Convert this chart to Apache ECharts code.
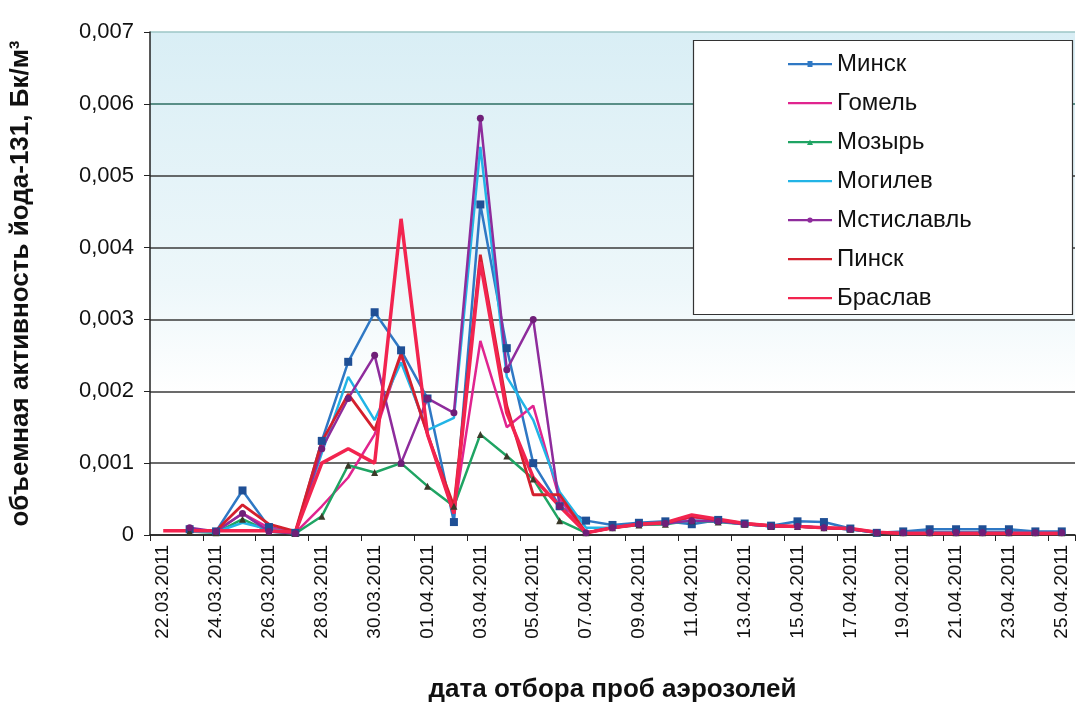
<!DOCTYPE html>
<html><head><meta charset="utf-8">
<script src="https://cdn.jsdelivr.net/npm/echarts@6/dist/echarts.min.js"></script>
<style>html,body{margin:0;padding:0;background:#fff}#c{width:1077px;height:706px}</style>
</head><body><div id="c"></div>
<script>
const dates = ['22.03.2011','23.03.2011','24.03.2011','25.03.2011','26.03.2011','27.03.2011','28.03.2011','29.03.2011','30.03.2011','31.03.2011',
'01.04.2011','02.04.2011','03.04.2011','04.04.2011','05.04.2011','06.04.2011','07.04.2011','08.04.2011','09.04.2011','10.04.2011',
'11.04.2011','12.04.2011','13.04.2011','14.04.2011','15.04.2011','16.04.2011','17.04.2011','18.04.2011','19.04.2011','20.04.2011',
'21.04.2011','22.04.2011','23.04.2011','24.04.2011','25.04.2011'];
const minsk = [null,0.00008,0.00005,0.00062,0.00011,0.00003,0.00131,0.00241,0.0031,0.00257,0.0019,0.00018,0.0046,0.0026,0.001,0.0004,0.0002,
0.00014,0.00017,0.00019,0.00015,0.00021,0.00016,0.00013,0.00019,0.00018,0.00009,0.00003,0.00005,0.00008,0.00008,0.00008,0.00008,0.00005,0.00005];
const gomel = [null,0.00006,0.00005,0.0003,0.0001,0.00003,0.0004,0.0008,0.0014,0.0025,0.0014,0.0003,0.0027,0.0015,0.0018,0.0005,0.00003,
0.0001,0.00015,0.00015,0.00025,0.0002,0.00015,0.00013,0.00012,0.0001,0.00008,0.00004,0.00003,0.00003,0.00003,0.00003,0.00003,0.00003,0.00003];
const mozyr = [null,0.00005,0.00003,0.00022,0.00005,0.00002,0.00026,0.00097,0.00087,0.001,0.00068,0.0004,0.0014,0.0011,0.00078,0.0002,0.00003,
0.0001,0.00014,0.00015,0.0002,0.00018,0.00015,0.00012,0.00012,0.0001,0.00008,0.00003,0.00003,0.00003,0.00003,0.00003,0.00003,0.00003,0.00003];
const mogilev = [null,0.00005,0.00004,0.00017,0.00008,0.00003,0.00114,0.0022,0.0016,0.0024,0.00146,0.00163,0.0054,0.0022,0.0016,0.0006,0.0001,
0.0001,0.00015,0.00016,0.0002,0.00019,0.00015,0.00012,0.00012,0.0001,0.00008,0.00003,0.00003,0.00003,0.00003,0.00003,0.00003,0.00003,0.00003];
const mstislavl = [null,0.0001,0.00005,0.0003,0.00005,0.00002,0.0012,0.0019,0.0025,0.001,0.0019,0.0017,0.0058,0.0023,0.003,0.0004,0.00003,
0.0001,0.00015,0.00016,0.0002,0.00019,0.00015,0.00012,0.00012,0.0001,0.00008,0.00003,0.00003,0.00003,0.00003,0.00003,0.00003,0.00003,0.00003];
const pinsk = [null,0.00006,0.00006,0.00042,0.00015,0.00005,0.0013,0.00196,0.00146,0.00253,0.0014,0.0004,0.0039,0.0018,0.00056,0.00056,0.00003,
0.0001,0.00015,0.00017,0.00026,0.00021,0.00016,0.00013,0.00012,0.0001,0.00009,0.00004,0.00002,0.00002,0.00002,0.00002,0.00002,0.00002,0.00002];
const braslav = [0.00006,0.00006,0.00006,0.00006,0.00006,0.00004,0.001,0.0012,0.001,0.0044,0.0014,0.0003,0.0038,0.0017,0.0008,0.0004,0.00003,
0.0001,0.00015,0.00017,0.00028,0.00022,0.00016,0.00013,0.00012,0.0001,0.00009,0.00004,0.00002,0.00002,0.00002,0.00002,0.00002,0.00002,0.00002];
const seriesNames = ['Минск','Гомель','Мозырь','Могилев','Мстиславль','Пинск','Браслав'];

const FONT = '"Liberation Sans", Arial, sans-serif';
const BOX = 'M0,0 L0,0 Z M44,12 L44,12 Z ';
const LINE = 'M0,5 H44 V7.2 H0 Z ';
const ICONS = {
  line: 'path://' + BOX + LINE,
  rect: 'path://' + BOX + LINE + 'M19.5,3.1 H24.5 V9.1 H19.5 Z',
  triangle: 'path://' + BOX + LINE + 'M19,9 L22,3.5 L25,9 Z',
  circle: 'path://' + BOX + LINE + 'M19.3,6.1 A2.7,2.7 0 1 1 24.7,6.1 A2.7,2.7 0 1 1 19.3,6.1 Z'
};
function ser(name, data, color, width, symbol, symColor, symSize){
  return {name, type:'line', data, connectNulls:false,
    symbol: symbol || 'none', symbolSize: symSize || 0, showSymbol: !!symbol,
    itemStyle:{color: symColor || color, borderColor: symColor || color, borderWidth:0},
    lineStyle:{color, width}, emphasis:{disabled:true}, animation:false};
}
const colors = ['#2f78c4','#e0248f','#1fa463','#22b4e6','#8e2c9c','#d4202e','#f2244f'];
const iconKinds = ['rect','line','triangle','line','circle','line','line'];
const chart = echarts.init(document.getElementById('c'), null, {renderer:'canvas'});
chart.setOption({
  animation:false,
  textStyle:{fontFamily:FONT},
  grid:{left:150, top:32, right:2, bottom:171, show:true, borderWidth:0, containLabel:false, outerBoundsMode:'none',
    backgroundColor:new echarts.graphic.LinearGradient(0,0,0,1,[
      {offset:0,color:'#d9eef5'},{offset:0.5,color:'#edf7fa'},{offset:0.72,color:'#ffffff'},{offset:1,color:'#ffffff'}])},
  graphic:[{type:'rect', z:3, shape:{x:693.5,y:40.5,width:379,height:274}, style:{fill:'#fff', stroke:'#333', lineWidth:1.2}}],
  legend:{orient:'vertical', left:783, top:47, itemWidth:44, itemHeight:12, itemGap:15,
    textStyle:{fontSize:24, color:'#111', fontFamily:FONT}, z:5,
    data: seriesNames.map((n,i)=>({name:n, icon:ICONS[iconKinds[i]], itemStyle:{color:colors[i]}}))},
  xAxis:{type:'category', data:dates, boundaryGap:true,
    name:'дата отбора проб аэрозолей', nameLocation:'middle', nameGap:142,
    nameTextStyle:{fontSize:26, fontWeight:'bold', color:'#111', fontFamily:FONT},
    axisLine:{lineStyle:{color:'#222', width:1.5}},
    axisTick:{show:true, interval:1, alignWithLabel:false, length:6, lineStyle:{color:'#222'}},
    axisLabel:{interval:1, rotate:90, fontSize:19, color:'#111', margin:10, fontFamily:FONT}},
  yAxis:{type:'value', min:0, max:0.007, interval:0.001,
    name:'объемная активность йода-131, Бк/м³', nameLocation:'middle', nameGap:116,
    nameTextStyle:{fontSize:26, fontWeight:'bold', color:'#111', fontFamily:FONT},
    axisLine:{show:true, lineStyle:{color:'#222', width:1.5}},
    axisTick:{show:true, length:6, lineStyle:{color:'#222'}},
    axisLabel:{fontSize:22, color:'#111', margin:16, fontFamily:FONT,
      formatter:v => v===0 ? '0' : v.toFixed(3).replace('.',',')},
    splitLine:{show:true, lineStyle:{width:1.6, color:['#333','#3a3a3a','#3a3a3a','#3a3a3a','#3a3a3a','#3a3a3a','#2d6e62','#9cc6c6']}}},
  series:[
    ser(seriesNames[0], minsk, colors[0], 2.5, 'rect', '#1f4f95', 8),
    ser(seriesNames[1], gomel, colors[1], 2.5),
    ser(seriesNames[2], mozyr, colors[2], 2.5, 'triangle', '#3b3a2a', 7),
    ser(seriesNames[3], mogilev, colors[3], 2.5),
    ser(seriesNames[4], mstislavl, colors[4], 2.5, 'circle', '#6f1f78', 7),
    ser(seriesNames[5], pinsk, colors[5], 2.8),
    ser(seriesNames[6], braslav, colors[6], 3.5)
  ]
});
</script></body></html>
